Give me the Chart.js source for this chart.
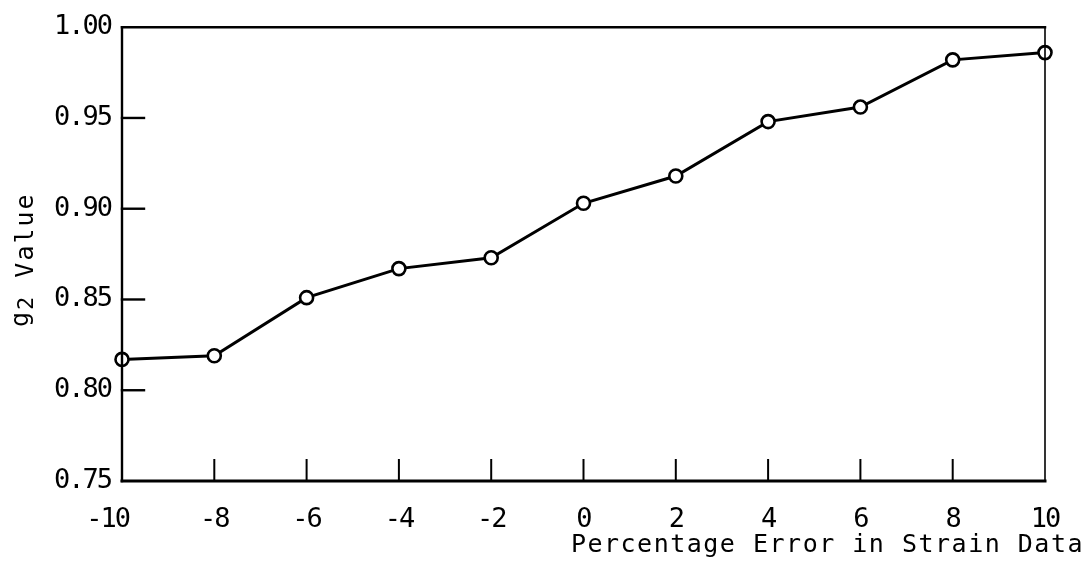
<!DOCTYPE html>
<html>
<head>
<meta charset="utf-8">
<script src="https://cdn.jsdelivr.net/npm/chart.js@4.4.1/dist/chart.umd.min.js"></script>
<style>
  html, body { margin: 0; padding: 0; background: #fff; }
  #wrap { position: relative; width: 1088px; height: 573px; }
</style>
</head>
<body>
<div id="wrap"><canvas id="g2Chart"></canvas></div>
<script>
// percentage error applied to the strain data, and the resulting g2
const errorPercent = [-10, -8, -6, -4, -2, 0, 2, 4, 6, 8, 10];
const g2Values = [0.817, 0.819, 0.851, 0.867, 0.873, 0.903, 0.918, 0.948, 0.956, 0.982, 0.986];

const xTicks = [-10, -8, -6, -4, -2, 0, 2, 4, 6, 8, 10];
const yTicks = [0.75, 0.80, 0.85, 0.90, 0.95, 1.00];

const FONT = "'DejaVu Sans Mono', 'Liberation Mono', monospace";

// frame, inward tick marks and axis titles
const framePlugin = {
    id: 'frame',
    beforeDraw(chart) {
        // tall, tight typewriter look for the tick labels
        chart.ctx.letterSpacing = '-2px';
    },
    afterDatasetsDraw(chart) {
        const { ctx, chartArea: a, scales: { x, y } } = chart;
        ctx.save();
        ctx.strokeStyle = '#000';
        ctx.lineCap = 'square';

        const seg = (x1, y1, x2, y2, w) => {
            ctx.lineWidth = w;
            ctx.beginPath();
            ctx.moveTo(x1, y1);
            ctx.lineTo(x2, y2);
            ctx.stroke();
        };

        seg(a.left, a.top, a.right, a.top, 2.5);
        seg(a.right, a.top, a.right, a.bottom, 1.6);
        seg(a.left, a.top, a.left, a.bottom, 2.4);
        seg(a.left, a.bottom, a.right, a.bottom, 3);

        x.ticks.forEach(t => {
            if (t.value <= x.min || t.value >= x.max) return;
            const px = x.getPixelForValue(t.value);
            seg(px, a.bottom, px, a.bottom - 21, 2);
        });
        y.ticks.forEach(t => {
            if (t.value <= y.min || t.value >= y.max) return;
            const py = y.getPixelForValue(t.value);
            seg(a.left, py, a.left + 22, py, 2.4);
        });

        ctx.fillStyle = '#000';
        ctx.letterSpacing = '1.5px';

        // x title, right aligned past the plot edge
        ctx.font = '25px ' + FONT;
        ctx.textAlign = 'right';
        ctx.textBaseline = 'alphabetic';
        ctx.fillText('Percentage Error in Strain Data', a.right + 39, a.bottom + 71);

        // y title, read bottom to top: "g" sits a little high, "2" on the baseline
        ctx.save();
        ctx.translate(33, 327);
        ctx.rotate(-Math.PI / 2);
        ctx.textAlign = 'left';
        ctx.letterSpacing = '2px';
        ctx.font = '25px ' + FONT;
        let u = 0;
        ctx.fillText('g', u, -5);
        u += ctx.measureText('g').width;
        ctx.font = '22px ' + FONT;
        ctx.fillText('2', u, 0);
        u += ctx.measureText('2').width;
        ctx.font = '25px ' + FONT;
        ctx.fillText(' Value', u, 0);
        ctx.restore();

        ctx.restore();
    }
};

new Chart(document.getElementById('g2Chart'), {
    type: 'line',
    data: {
        datasets: [{
            label: 'g2 Value',
            data: errorPercent.map((e, i) => ({ x: e, y: g2Values[i] })),
            borderColor: '#000',
            borderWidth: 3,
            pointRadius: 6.5,
            pointBorderWidth: 2.6,
            pointBackgroundColor: '#fff',
            pointBorderColor: '#000',
            tension: 0,
            clip: false
        }]
    },
    options: {
        responsive: true,
        maintainAspectRatio: false,
        animation: false,
        events: [],
        layout: { padding: { top: 23, right: 43, left: 0, bottom: 0 } },
        plugins: {
            legend: { display: false },
            tooltip: { enabled: false }
        },
        scales: {
            x: {
                type: 'linear',
                min: -10,
                max: 10,
                afterBuildTicks: scale => { scale.ticks = xTicks.map(v => ({ value: v })); },
                afterFit: scale => { scale.height = 92; },
                grid: { display: false, drawTicks: false },
                border: { display: false },
                ticks: {
                    padding: 23,
                    color: '#000',
                    font: { family: FONT, size: 27 },
                    maxRotation: 0,
                    autoSkip: false,
                    // the first label sits left of the corner so it clears the axis
                    callback: v => v === -10 ? '-10  ' : String(v)
                }
            },
            y: {
                min: 0.75,
                max: 1.00,
                afterBuildTicks: scale => { scale.ticks = yTicks.map(v => ({ value: v })); },
                afterFit: scale => { scale.width = 122; },
                grid: { display: false, drawTicks: false },
                border: { display: false },
                ticks: {
                    padding: 11,
                    color: '#000',
                    font: { family: FONT, size: 27 },
                    callback: v => Number(v).toFixed(2)
                }
            }
        }
    },
    plugins: [framePlugin]
});
</script>
</body>
</html>
